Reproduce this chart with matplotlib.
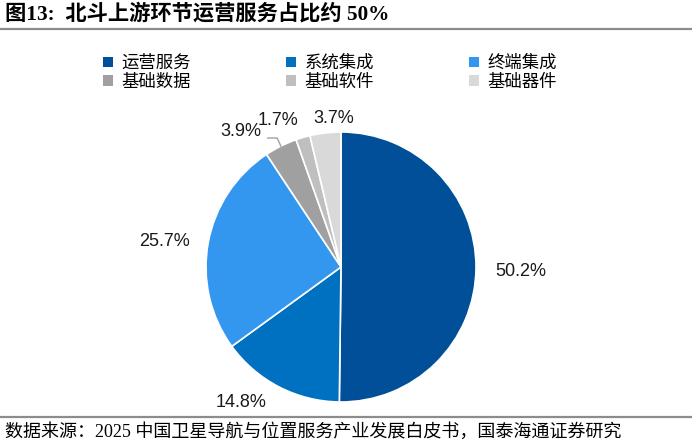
import numpy as np
import matplotlib.pyplot as plt
from matplotlib.patches import Patch
from matplotlib.lines import Line2D

# 北斗上游环节结构
categories = ["运营服务", "系统集成", "终端集成", "基础数据", "基础软件", "基础器件"]
shares = [50.2, 14.8, 25.7, 3.9, 1.7, 3.7]
colors = ["#004f98", "#0070c0", "#3497ef", "#a0a0a0", "#bfbfbf", "#d9d9d9"]
# 标签位置微调 (半径倍数, 角度偏移)
label_r = [1.33, 1.25, 1.32, 1.25, 1.18, 1.10]
label_da = [-1.0, -9.0, 2.0, 10.0, 7.0, -4.0]

cjk = ["Noto Sans CJK SC", "DejaVu Sans"]
serif_cjk = ["Liberation Serif", "Noto Sans CJK SC"]

W, H = 692, 444
fig = plt.figure(figsize=(W / 100, H / 100), dpi=100)

cx, cy, R = 341, 267, 135
ax = fig.add_axes([(cx - R) / W, (H - cy - R) / H, 2 * R / W, 2 * R / H])
wedges, _ = ax.pie(shares, colors=colors, startangle=90, counterclock=False,
                   radius=1.0, wedgeprops=dict(edgecolor="white", linewidth=1.2))
ax.set_xlim(-1, 1)
ax.set_ylim(-1, 1)
ax.set_aspect("equal")
ax.axis("off")

for i, w in enumerate(wedges):
    mid = (w.theta1 + w.theta2) / 2
    a = np.deg2rad(mid + label_da[i])
    x, y = label_r[i] * np.cos(a), label_r[i] * np.sin(a)
    ax.text(x, y, f"{shares[i]:.1f}%", ha="center", va="center",
            fontsize=13, family="Liberation Sans", color="#1a1a1a")
    if categories[i] == "基础数据":
        am = np.deg2rad(mid)
        ex, ey = np.cos(am), np.sin(am)
        ax.add_line(Line2D([x + 0.2, x + 0.27, ex], [y - 0.05, y - 0.05, ey],
                           color="#a0a0a0", lw=1, clip_on=False))

# 图例
handles = [Patch(facecolor=c, edgecolor="none") for c in colors]
order = [0, 3, 1, 4, 2, 5]
leg = fig.legend([handles[i] for i in order], [categories[i] for i in order],
                 ncol=3, loc="upper left", bbox_to_anchor=(103 / W, 1 - 54 / H),
                 frameon=False, prop={"family": cjk, "size": 12.5},
                 handlelength=0.55, handleheight=0.55, handletextpad=0.5,
                 columnspacing=5.5, labelspacing=0.05, borderpad=0, borderaxespad=0)

# 标题和来源
fig.text(5 / W, 1 - 14 / H, "图13:  北斗上游环节运营服务占比约 50%",
         fontsize=15.3, fontweight="bold", family=serif_cjk, va="center", ha="left")
fig.add_artist(Line2D([0, 1], [1 - 29 / H, 1 - 29 / H], color="#8c8c8c", lw=1.6))
fig.add_artist(Line2D([0, 1], [1 - 417 / H, 1 - 417 / H], color="#8c8c8c", lw=1.6))
fig.text(5 / W, 1 - 432 / H, "数据来源：2025 中国卫星导航与位置服务产业发展白皮书，国泰海通证券研究",
         fontsize=13.0, family=serif_cjk, va="center", ha="left")

fig.savefig("out.png", dpi=100)
